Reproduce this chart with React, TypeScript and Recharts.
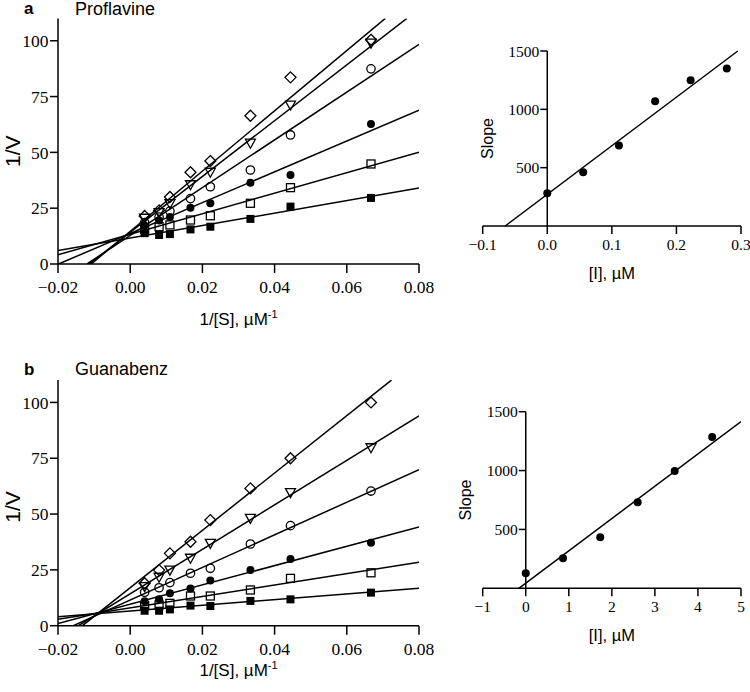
import React from "react"
import { ComposedChart, XAxis, YAxis, Scatter, Line, ReferenceLine } from "recharts"

// 1/[S] values (µM^-1) shared by both double-reciprocal plots
const invS = [0.004, 0.008, 0.011, 0.0167, 0.0222, 0.0333, 0.0444, 0.0667]

// Proflavine: [I] (µM) and secondary-plot slopes
const proflavineInhibitor = [0, 0.0556, 0.111, 0.167, 0.222, 0.278]
const proflavineSlopes = [280, 460, 690, 1070, 1250, 1350]
const proflavineIntercepts = [11.6, 13.3, 13.7, 12.8, 14.2, 14.6]
// 1/V at each 1/[S], one row per inhibitor concentration
const proflavineRates = [
  [13.8, 13.0, 13.4, 15.5, 16.7, 20.2, 25.7, 29.6],
  [15.5, 16.7, 17.5, 19.7, 21.6, 27.2, 34.2, 44.8],
  [17.2, 19.5, 21.0, 25.2, 27.2, 36.4, 39.9, 62.7],
  [18.5, 21.0, 23.7, 29.3, 34.6, 42.1, 57.8, 87.4],
  [20.5, 23.0, 27.0, 35.5, 41.1, 54.1, 71.2, 98.9],
  [21.5, 24.0, 30.0, 41.1, 46.1, 66.4, 83.6, 100.4],
]

// Guanabenz
const guanabenzInhibitor = [0, 0.866, 1.73, 2.6, 3.46, 4.33]
const guanabenzSlopes = [127, 255, 433, 730, 996, 1285]
const guanabenzIntercepts = [6.6, 8.0, 9.6, 11.5, 14.3, 17.0]
const guanabenzRates = [
  [6.7, 6.7, 7.3, 9.0, 8.8, 11.1, 11.8, 14.8],
  [9.0, 9.3, 10.0, 13.3, 13.3, 16.0, 21.2, 23.7],
  [11.0, 11.8, 14.5, 16.7, 20.2, 24.9, 29.9, 37.2],
  [15.0, 17.0, 19.3, 23.5, 25.7, 36.6, 44.8, 60.3],
  [17.5, 21.7, 24.9, 30.2, 36.9, 48.1, 59.6, 79.7],
  [19.0, 24.9, 32.4, 37.6, 47.3, 61.5, 75.0, 100.0],
]

const primaryXTicks = [-0.02, 0, 0.02, 0.04, 0.06, 0.08]
const primaryYTicks = [0, 25, 50, 75, 100]
const slopeTicks = [500, 1000, 1500]
const proflavineITicks = [-0.1, 0, 0.1, 0.2, 0.3]
const guanabenzITicks = [-1, 0, 1, 2, 3, 4, 5]

const SANS = "Liberation Sans, Arial, sans-serif"
const SERIF = "Liberation Serif, Times New Roman, Tinos, DejaVu Serif, Noto Serif, serif"
const markerKinds = ["squareFilled", "square", "circleFilled", "circle", "triangle", "diamond"]

const minus = (s: string) => s.replace("-", "\u2212")

// straight line y = m x + b, trimmed to the plot window
function segment(m: number, b: number, x: [number, number], y: [number, number]) {
  let x0 = x[0]
  let x1 = x[1]
  if (m > 0) {
    x0 = Math.max(x0, (y[0] - b) / m)
    x1 = Math.min(x1, (y[1] - b) / m)
  }
  return [
    { x: x0, y: m * x0 + b },
    { x: x1, y: m * x1 + b },
  ]
}

function leastSquares(xs: number[], ys: number[]) {
  const n = xs.length
  const mx = xs.reduce((a, v) => a + v, 0) / n
  const my = ys.reduce((a, v) => a + v, 0) / n
  let sxy = 0
  let sxx = 0
  xs.forEach((v, i) => {
    sxy += (v - mx) * (ys[i] - my)
    sxx += (v - mx) * (v - mx)
  })
  const m = sxy / sxx
  return { m, b: my - m * mx }
}

function Marker(props: any) {
  const { cx, cy, kind } = props
  const sw = 1.3
  switch (kind) {
    case "squareFilled":
      return <rect x={cx - 4} y={cy - 4} width={8} height={8} fill="#000" />
    case "square":
      return <rect x={cx - 4} y={cy - 4} width={8} height={8} fill="none" stroke="#000" strokeWidth={sw} />
    case "circleFilled":
      return <circle cx={cx} cy={cy} r={4} fill="#000" />
    case "circle":
      return <circle cx={cx} cy={cy} r={4.2} fill="none" stroke="#000" strokeWidth={sw} />
    case "triangle":
      return <path d={`M${cx - 5},${cy - 4}L${cx + 5},${cy - 4}L${cx},${cy + 5}Z`} fill="none" stroke="#000" strokeWidth={sw} />
    default:
      return <path d={`M${cx},${cy - 5.5}L${cx + 5.5},${cy}L${cx},${cy + 5.5}L${cx - 5.5},${cy}Z`} fill="none" stroke="#000" strokeWidth={sw} />
  }
}

const axisStroke = { stroke: "#000", strokeWidth: 1.5 }

function SerifTick(props: any) {
  const { x, y, payload, textAnchor, fmt, size, dy } = props
  return (
    <text x={x} y={y} dy={dy} textAnchor={textAnchor} fontFamily={SERIF} fontSize={size} fill="#000">
      {fmt ? fmt(payload.value) : payload.value}
    </text>
  )
}

type PrimaryProps = {
  top: number
  height: number
  marginTop: number
  marginBottom: number
  rates: number[][]
  slopes: number[]
  intercepts: number[]
  xTitleDy: number
  yTitleDy: number
}

function PrimaryPlot(p: PrimaryProps) {
  const xDom: [number, number] = [-0.02, 0.08]
  const yDom: [number, number] = [0, 110]
  return (
    <div style={{ position: "absolute", left: 0, top: p.top }}>
      <ComposedChart width={440} height={p.height} margin={{ top: p.marginTop, right: 21, bottom: p.marginBottom, left: 0 }}>
        <XAxis
          type="number"
          dataKey="x"
          domain={xDom}
          ticks={primaryXTicks}
          interval={0}
          allowDataOverflow
          height={40}
          tickSize={9}
          tickMargin={8}
          axisLine={axisStroke}
          tickLine={axisStroke}
          tick={(tp: any) => <SerifTick {...tp} size={17.5} dy="0.71em" fmt={(v: number) => minus(v.toFixed(2))} />}
          label={{
            content: ({ viewBox }: any) => (
              <text x={viewBox.x + viewBox.width / 2} y={viewBox.y + p.xTitleDy} textAnchor="middle" fontFamily={SANS} fontSize={17}>
                1/[S], µM<tspan dy={-7} fontSize={11}>-1</tspan>
              </text>
            ),
          }}
        />
        <YAxis
          type="number"
          dataKey="y"
          domain={yDom}
          ticks={primaryYTicks}
          interval={0}
          allowDataOverflow
          width={58}
          tickSize={8}
          tickMargin={1.5}
          axisLine={axisStroke}
          tickLine={axisStroke}
          tick={(tp: any) => <SerifTick {...tp} size={17.5} dy="0.355em" />}
          label={{
            content: ({ viewBox }: any) => {
              const cx = viewBox.x + 12.5
              const cy = viewBox.y + viewBox.height / 2 + p.yTitleDy
              return (
                <text x={cx} y={cy} transform={`rotate(-90 ${cx} ${cy})`} textAnchor="middle" dominantBaseline="central" fontFamily={SANS} fontSize={21}>
                  1/V
                </text>
              )
            },
          }}
        />
        {p.slopes.map((m, i) => (
          <Line
            key={`fit-${i}`}
            data={segment(m, p.intercepts[i], xDom, yDom)}
            dataKey="y"
            stroke="#000"
            strokeWidth={1.5}
            dot={false}
            activeDot={false}
            legendType="none"
            isAnimationActive={false}
          />
        ))}
        {p.rates.map((row, i) => (
          <Scatter
            key={`pts-${i}`}
            data={row.map((v, j) => ({ x: invS[j], y: v }))}
            shape={(sp: any) => <Marker cx={sp.cx} cy={sp.cy} kind={markerKinds[i]} />}
            isAnimationActive={false}
          />
        ))}
      </ComposedChart>
    </div>
  )
}

type SecondaryProps = {
  top: number
  height: number
  marginTop: number
  marginBottom: number
  conc: number[]
  slopes: number[]
  xDom: [number, number]
  xTicks: number[]
  digits: number
}

function SecondaryPlot(p: SecondaryProps) {
  const width = 320
  const yAxisW = 52.7
  const right = 9
  const plotW = width - yAxisW - right
  // the slope axis stands at [I] = 0, not at the left edge
  const shift = (plotW * (0 - p.xDom[0])) / (p.xDom[1] - p.xDom[0])
  const yDom: [number, number] = [0, 1500]
  const fit = leastSquares(p.conc, p.slopes)
  const pts = p.conc.map((c, i) => ({ x: c, y: p.slopes[i] }))
  return (
    <div style={{ position: "absolute", left: 430, top: p.top }}>
      <ComposedChart width={width} height={p.height} margin={{ top: p.marginTop, right, bottom: p.marginBottom, left: 0 }}>
        <XAxis
          type="number"
          dataKey="x"
          domain={p.xDom}
          ticks={p.xTicks}
          interval={0}
          allowDataOverflow
          height={40}
          tickSize={8}
          tickMargin={4.5}
          axisLine={axisStroke}
          tickLine={axisStroke}
          tick={(tp: any) => <SerifTick {...tp} size={15.5} dy="0.71em" fmt={(v: number) => minus(v.toFixed(p.digits))} />}
          label={{
            content: ({ viewBox }: any) => (
              <text x={viewBox.x + viewBox.width / 2} y={viewBox.y + 53} textAnchor="middle" fontFamily={SANS} fontSize={16.5}>
                [I], µM
              </text>
            ),
          }}
        />
        <YAxis
          type="number"
          dataKey="y"
          domain={yDom}
          ticks={slopeTicks}
          interval={0}
          width={yAxisW}
          tickSize={0}
          tickMargin={0}
          axisLine={false}
          tickLine={false}
          tick={(tp: any) => {
            const ax = tp.x + shift
            return (
              <g>
                <line x1={ax - 7} x2={ax} y1={tp.y} y2={tp.y} stroke="#000" strokeWidth={1.5} />
                <SerifTick x={ax - 8} y={tp.y} dy="0.355em" textAnchor="end" size={15.5} payload={tp.payload} />
              </g>
            )
          }}
          label={{
            content: ({ viewBox }: any) => {
              const cx = viewBox.x + viewBox.width + shift - 60
              const cy = viewBox.y + viewBox.height / 2
              return (
                <text x={cx} y={cy} transform={`rotate(-90 ${cx} ${cy})`} textAnchor="middle" dominantBaseline="central" fontFamily={SANS} fontSize={16}>
                  Slope
                </text>
              )
            },
          }}
        />
        <ReferenceLine x={0} stroke="#000" strokeWidth={1.5} />
        <Line
          data={segment(fit.m, fit.b, p.xDom, yDom)}
          dataKey="y"
          stroke="#000"
          strokeWidth={1.5}
          dot={false}
          activeDot={false}
          legendType="none"
          isAnimationActive={false}
        />
        <Scatter data={pts} shape={(sp: any) => <Marker cx={sp.cx} cy={sp.cy} kind="circleFilled" />} isAnimationActive={false} />
      </ComposedChart>
    </div>
  )
}

export default function App() {
  return (
    <div style={{ position: "absolute", left: 0, top: 0, width: 750, height: 692, background: "#fff" }}>
      <PrimaryPlot
        top={0}
        height={340}
        marginTop={18.4}
        marginBottom={36}
        rates={proflavineRates}
        slopes={proflavineSlopes}
        intercepts={proflavineIntercepts}
        xTitleDy={61}
        yTitleDy={10}
      />
      <SecondaryPlot
        top={0}
        height={300}
        marginTop={51}
        marginBottom={34}
        conc={proflavineInhibitor}
        slopes={proflavineSlopes}
        xDom={[-0.1, 0.3]}
        xTicks={proflavineITicks}
        digits={1}
      />
      <PrimaryPlot
        top={340}
        height={352}
        marginTop={40.1}
        marginBottom={26.3}
        rates={guanabenzRates}
        slopes={guanabenzSlopes}
        intercepts={guanabenzIntercepts}
        xTitleDy={50}
        yTitleDy={4}
      />
      <SecondaryPlot
        top={340}
        height={352}
        marginTop={71.7}
        marginBottom={63.7}
        conc={guanabenzInhibitor}
        slopes={guanabenzSlopes}
        xDom={[-1, 5]}
        xTicks={guanabenzITicks}
        digits={0}
      />
      <svg width={750} height={692} style={{ position: "absolute", left: 0, top: 0, pointerEvents: "none" }}>
        <text x={24} y={14} fontFamily={SANS} fontSize={17} fontWeight="bold">a</text>
        <text x={75} y={15} fontFamily={SANS} fontSize={18}>Proflavine</text>
        <text x={24} y={375} fontFamily={SANS} fontSize={17} fontWeight="bold">b</text>
        <text x={75} y={375} fontFamily={SANS} fontSize={18}>Guanabenz</text>
      </svg>
    </div>
  )
}
